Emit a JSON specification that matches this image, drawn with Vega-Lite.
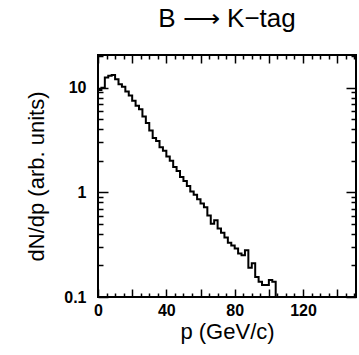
{
  "$schema": "https://vega.github.io/schema/vega-lite/v6.json",
  "width": 258,
  "height": 242,
  "autosize": "none",
  "padding": {"left": 98, "top": 55, "right": 3, "bottom": 58},
  "background": "white",
  "config": {
    "view": {"stroke": "black", "strokeWidth": 2},
    "font": "Liberation Sans",
    "axis": {"domain": false, "grid": false, "tickColor": "black", "tickWidth": 1.5, "labelColor": "black", "titleColor": "black", "labelFont": "Liberation Sans", "titleFont": "Liberation Sans", "labelFontWeight": "bold", "titleFontWeight": "normal"}
  },
  "title": {"text": "B ⟶ K−tag", "fontSize": 26, "fontWeight": "normal", "font": "Liberation Sans", "anchor": "middle", "offset": 22, "color": "black"},
  "data": {"values": [
    {"p": 0, "v": 9.5}, {"p": 2, "v": 10}, {"p": 4, "v": 12.5}, {"p": 6, "v": 13}, {"p": 8, "v": 13.2},
    {"p": 10, "v": 12}, {"p": 12, "v": 10.8}, {"p": 14, "v": 10.2}, {"p": 16, "v": 9.2}, {"p": 18, "v": 8.4},
    {"p": 20, "v": 7.5}, {"p": 22, "v": 6.7}, {"p": 24, "v": 6.2}, {"p": 26, "v": 5.3}, {"p": 28, "v": 4.6},
    {"p": 30, "v": 3.9}, {"p": 32, "v": 3.3}, {"p": 34, "v": 3.1}, {"p": 36, "v": 2.7}, {"p": 38, "v": 2.5},
    {"p": 40, "v": 2.2}, {"p": 42, "v": 2.0}, {"p": 44, "v": 1.75}, {"p": 46, "v": 1.6}, {"p": 48, "v": 1.4},
    {"p": 50, "v": 1.28}, {"p": 52, "v": 1.15}, {"p": 54, "v": 1.02}, {"p": 56, "v": 0.95}, {"p": 58, "v": 0.86},
    {"p": 60, "v": 0.78}, {"p": 62, "v": 0.72}, {"p": 64, "v": 0.6}, {"p": 66, "v": 0.5}, {"p": 68, "v": 0.54},
    {"p": 70, "v": 0.45}, {"p": 72, "v": 0.41}, {"p": 74, "v": 0.37}, {"p": 76, "v": 0.33}, {"p": 78, "v": 0.31},
    {"p": 80, "v": 0.29}, {"p": 82, "v": 0.26}, {"p": 84, "v": 0.25}, {"p": 86, "v": 0.28}, {"p": 88, "v": 0.19},
    {"p": 90, "v": 0.21}, {"p": 92, "v": 0.155}, {"p": 94, "v": 0.14}, {"p": 96, "v": 0.13}, {"p": 98, "v": 0.13},
    {"p": 100, "v": 0.145}, {"p": 102, "v": 0.14}, {"p": 104, "v": 0.05}, {"p": 106, "v": 0.05}
  ]},
  "layer": [
    {
      "mark": {"type": "line", "interpolate": "step-after", "color": "black", "strokeWidth": 2, "clip": true},
      "encoding": {
        "x": {"field": "p", "type": "quantitative", "scale": {"domain": [0, 151], "nice": false, "zero": false},
          "axis": {"orient": "bottom", "title": "p (GeV/c)", "titleFontSize": 22, "titlePadding": 3,
            "values": [0,5,10,15,20,25,30,35,40,45,50,55,60,65,70,75,80,85,90,95,100,105,110,115,120,125,130,135,140,145,150],
            "labelExpr": "datum.value % 40 === 0 ? datum.label : ''", "labelFontSize": 16, "labelPadding": 13,
            "tickSize": {"expr": "datum.value % 20 === 0 ? -8 : -4"}, "labelFlush": false}},
        "y": {"field": "v", "type": "quantitative", "scale": {"type": "log", "domain": [0.1, 20.5], "nice": false},
          "axis": {"orient": "left", "title": "dN/dp  (arb. units)", "titleFontSize": 22, "titlePadding": 15,
            "values": [0.1,0.2,0.3,0.4,0.5,0.6,0.7,0.8,0.9,1,2,3,4,5,6,7,8,9,10,20],
            "labelExpr": "datum.value == 0.1 ? '0.1' : datum.value == 1 ? '1' : datum.value == 10 ? '10' : ''",
            "labelFontSize": 16, "labelPadding": 22,
            "tickSize": {"expr": "(datum.value == 0.1 || datum.value == 1 || datum.value == 10) ? -10 : -5"}}}
      }
    },
    {
      "mark": {"type": "line", "interpolate": "step-after", "opacity": 0},
      "encoding": {
        "x": {"field": "p", "type": "quantitative",
          "axis": {"orient": "top", "title": null, "labels": false,
            "values": [0,5,10,15,20,25,30,35,40,45,50,55,60,65,70,75,80,85,90,95,100,105,110,115,120,125,130,135,140,145,150],
            "tickSize": {"expr": "datum.value % 20 === 0 ? -8 : -4"}}},
        "y": {"field": "v", "type": "quantitative",
          "axis": {"orient": "right", "title": null, "labels": false,
            "values": [0.1,0.2,0.3,0.4,0.5,0.6,0.7,0.8,0.9,1,2,3,4,5,6,7,8,9,10,20],
            "tickSize": {"expr": "(datum.value == 0.1 || datum.value == 1 || datum.value == 10) ? -10 : -5"}}}
      }
    }
  ],
  "resolve": {"axis": {"x": "independent", "y": "independent"}}
}
